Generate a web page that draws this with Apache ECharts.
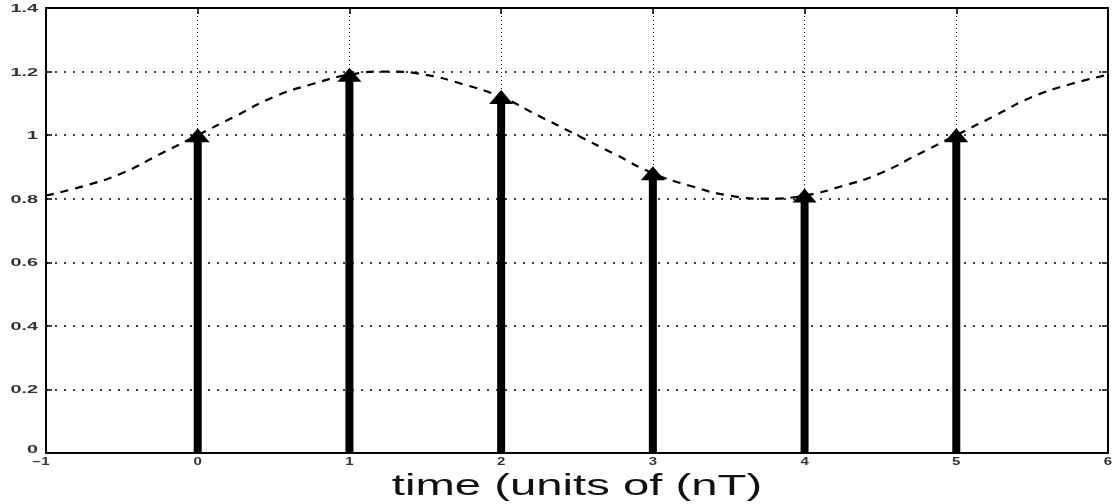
<!DOCTYPE html>
<html>
<head>
<meta charset="utf-8">
<script src="https://cdn.jsdelivr.net/npm/echarts@6/dist/echarts.min.js"></script>
<style>html,body{margin:0;padding:0;background:#fff}#c{width:1116px;height:504px}</style>
</head>
<body>
<div id="c"></div>
<script>
const stemTimes = [0, 1, 2, 3, 4, 5];
const stemValues = [1.0, 1.19, 1.12, 0.88, 0.81, 1.0];
const curveTimes = [-1, -0.75, -0.5, -0.25, 0, 0.25, 0.5, 0.75, 1, 1.25, 1.5, 1.75, 2, 2.25, 2.5, 2.75, 3, 3.25, 3.5, 3.75, 4, 4.25, 4.5, 4.75, 5, 5.25, 5.5, 5.75, 6];
const curveValues = [0.81, 0.84, 0.88, 0.94, 1.0, 1.06, 1.12, 1.16, 1.19, 1.2, 1.19, 1.16, 1.12, 1.06, 1.0, 0.94, 0.88, 0.84, 0.81, 0.8, 0.81, 0.84, 0.88, 0.94, 1.0, 1.06, 1.12, 1.16, 1.19];
const xTicks = [-1, 0, 1, 2, 3, 4, 5, 6];
const yTicks = [0, 0.2, 0.4, 0.6, 0.8, 1, 1.2, 1.4];
const xTickLabels = ['\u22121', '0', '1', '2', '3', '4', '5', '6'];
const yTickLabels = ['0', '0.2', '0.4', '0.6', '0.8', '1', '1.2', '1.4'];
const xTitle = 'time (units of (nT)';

const chart = echarts.init(document.getElementById('c'), null, {renderer: 'canvas'});
const FONT = 'Liberation Sans, Arial, sans-serif';
function frameAxis(extra) {
  return Object.assign({
    axisLine: {show: true, onZero: false, lineStyle: {color: '#000', width: 2}},
    axisTick: {show: true, inside: true, length: 6, lineStyle: {color: '#000', width: 1.5}},
    axisLabel: {show: false}
  }, extra);
}
const option = {
  animation: false,
  backgroundColor: '#fff',
  grid: {left: 46, right: 8, top: 8, bottom: 51, show: false, containLabel: false},
  xAxis: [
    frameAxis({type: 'value', min: xTicks[0], max: xTicks[xTicks.length - 1], interval: 1,
      splitLine: {show: true, lineStyle: {color: '#000', type: [1, 3], width: 1}}}),
    frameAxis({type: 'value', position: 'top', min: xTicks[0], max: xTicks[xTicks.length - 1], interval: 1,
      splitLine: {show: false}})
  ],
  yAxis: [
    frameAxis({type: 'value', min: yTicks[0], max: yTicks[yTicks.length - 1], interval: 0.2,
      splitLine: {show: true, lineStyle: {color: '#000', type: [2, 7], width: 1.6}}}),
    frameAxis({type: 'value', position: 'right', min: yTicks[0], max: yTicks[yTicks.length - 1], interval: 0.2,
      splitLine: {show: false}})
  ],
  series: [{
    type: 'line',
    data: curveTimes.map((t, i) => [t, curveValues[i]]),
    smooth: true, showSymbol: false,
    lineStyle: {color: '#000', width: 2.2, type: [8, 7]},
    z: 3
  }, {
    type: 'custom',
    data: stemTimes.map((t, i) => [t, stemValues[i]]),
    renderItem: function (params, api) {
      const base = api.coord([api.value(0), 0]);
      const top = api.coord([api.value(0), api.value(1)]);
      const sw = 8, hw = 12, ah = 7;
      return {
        type: 'group',
        children: [{
          type: 'rect',
          shape: {x: base[0] - sw / 2, y: top[1], width: sw, height: base[1] - top[1]},
          style: {fill: '#000'}
        }, {
          type: 'polygon',
          shape: {points: [[top[0], top[1] - ah], [top[0] - hw, top[1] + ah], [top[0] + hw, top[1] + ah]]},
          style: {fill: '#000'}
        }]
      };
    },
    z: 4
  }]
};
chart.setOption(option);

// Tick labels and axis title as stretched text, positioned through the axes' scales
const graphics = [];
const x0 = chart.convertToPixel({xAxisIndex: 0}, xTicks[0]);
const x1 = chart.convertToPixel({xAxisIndex: 0}, xTicks[xTicks.length - 1]);
const yBase = chart.convertToPixel({yAxisIndex: 0}, yTicks[0]);
xTicks.forEach((v, i) => {
  const dx = i === 0 ? -5 : 0;
  graphics.push({type: 'text', x: chart.convertToPixel({xAxisIndex: 0}, v) + dx, y: yBase + 9, scaleX: 1.5,
    style: {text: xTickLabels[i], font: 'bold 10px ' + FONT, fill: '#333', align: 'center', verticalAlign: 'middle'}});
});
yTicks.forEach((v, i) => {
  const dy = i === 0 ? -3 : 1;
  graphics.push({type: 'text', x: x0 - 8, y: chart.convertToPixel({yAxisIndex: 0}, v) + dy, scaleX: 1.8,
    style: {text: yTickLabels[i], font: 'bold 11px ' + FONT, fill: '#333', align: 'right', verticalAlign: 'middle'}});
});
graphics.push({type: 'text', x: (x0 + x1) / 2, y: yBase + 34, scaleX: 1.63,
  style: {text: xTitle, font: '29px ' + FONT, fill: '#111', align: 'center', verticalAlign: 'middle'}});
chart.setOption({graphic: graphics});
</script>
</body>
</html>
